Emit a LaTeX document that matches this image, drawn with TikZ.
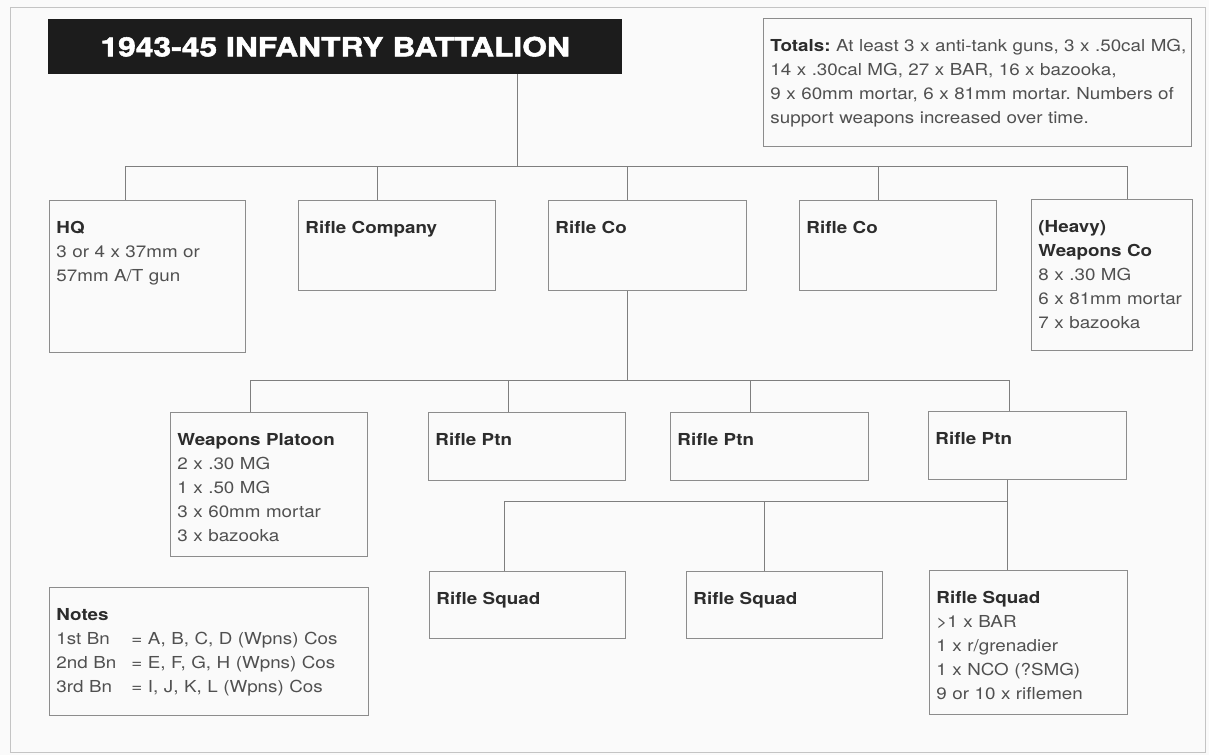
\documentclass[tikz,border=0pt]{standalone}
\usepackage{fontspec}
\setmainfont{TeX Gyre Heros}[FakeStretch=1.14]
\newfontfamily\titlefont{TeX Gyre Heros}[FakeStretch=1.2, FakeBold=2]
\usepackage{tikz}
\usetikzlibrary{calc}
\definecolor{paper}{HTML}{FAFAFA}
\definecolor{framegray}{HTML}{C4C4C4}
\definecolor{boxgray}{HTML}{8C8C8C}
\definecolor{linkgray}{HTML}{7E7E7E}
\definecolor{inkhead}{HTML}{2C2C2C}
\definecolor{inktext}{HTML}{505050}
\definecolor{titlebg}{HTML}{1C1C1C}
\newcommand\hd[1]{\textcolor{inkhead}{\bfseries #1}}
\frenchspacing

\begin{document}
\begin{tikzpicture}[
    x=1pt, y=-1pt,
    frame/.style={draw=framegray, line width=0.9pt},
    unit/.style={draw=boxgray, line width=0.9pt, anchor=north west,
        inner xsep=7pt, inner ysep=0pt, align=left, text=inktext,
        text height=33pt, font=\fontsize{16.5}{24}\selectfont},
    banner/.style={fill=titlebg, text=white, anchor=north west,
        minimum width=574pt, minimum height=55pt, inner sep=0pt,
        font=\titlefont\bfseries\fontsize{26.5}{30}\selectfont},
    link/.style={draw=linkgray, line width=0.9pt},
    ]

    \useasboundingbox (0,0) rectangle (1209,755);
    \fill[paper] (0,0) rectangle (1209,755);
    \draw[frame] (10,7) rectangle (1205,752);

    % title and totals
    \node[banner] (title) at (48,19) {1943-45 INFANTRY BATTALION};
    \node[unit, text width=414pt, text depth=95pt] (totals) at (763,18)
        {\mbox{\hd{Totals:} At least 3 x anti-tank guns, 3 x .50cal MG,}\\
         \mbox{14 x .30cal MG, 27 x BAR, 16 x bazooka,}\\
         \mbox{9 x 60mm mortar, 6 x 81mm mortar. Numbers of}\\
         \mbox{support weapons increased over time.}};

    % companies
    \node[unit, text width=182pt, text depth=119pt] (hq) at (49,200)
        {\hd{HQ}\\3 or 4 x 37mm or\\57mm A/T gun};
    \node[unit, text width=183pt, text depth=57pt] (coA) at (298,200) {\hd{Rifle Company}};
    \node[unit, text width=184pt, text depth=57pt] (coB) at (548,200) {\hd{Rifle Co}};
    \node[unit, text width=183pt, text depth=57pt] (coC) at (799,200) {\hd{Rifle Co}};
    \node[unit, text width=147pt, text depth=118pt] (wpnco) at (1031,199)
        {\hd{(Heavy)}\\\hd{Weapons Co}\\8 x .30 MG\\6 x 81mm mortar\\7 x bazooka};

    % platoons
    \node[unit, text width=183pt, text depth=111pt] (wpnplt) at (170,412)
        {\hd{Weapons Platoon}\\2 x .30 MG\\1 x .50 MG\\3 x 60mm mortar\\3 x bazooka};
    \node[unit, text width=183pt, text depth=35pt] (ptnA) at (428,412) {\hd{Rifle Ptn}};
    \node[unit, text width=184pt, text depth=35pt] (ptnB) at (670,412) {\hd{Rifle Ptn}};
    \node[unit, text width=184pt, text depth=35pt] (ptnC) at (928,411) {\hd{Rifle Ptn}};

    % squads
    \node[unit, text width=182pt, text depth=34pt] (sqdA) at (429,571) {\hd{Rifle Squad}};
    \node[unit, text width=182pt, text depth=34pt] (sqdB) at (686,571) {\hd{Rifle Squad}};
    \node[unit, text width=184pt, text depth=111pt] (sqdC) at (929,570)
        {\hd{Rifle Squad}\\>1 x BAR\\1 x r/grenadier\\1 x NCO (?SMG)\\9 or 10 x riflemen};

    % notes
    \node[unit, text width=305pt, text depth=95pt] (notes) at (49,587)
        {\hd{Notes}\\
         \makebox[75pt][l]{1st Bn}= A, B, C, D (Wpns) Cos\\
         \makebox[75pt][l]{2nd Bn}= E, F, G, H (Wpns) Cos\\
         \makebox[75pt][l]{3rd Bn}= I, J, K, L (Wpns) Cos};

    % battalion -> companies
    \coordinate (bnbus) at (517,166);
    \draw[link] (title.south -| bnbus) -- (bnbus);
    \foreach \n/\x in {hq/125, coA/377, coB/627, coC/878, wpnco/1127} {
        \coordinate (d-\n) at (\x,166);
        \draw[link] (d-\n) -- (d-\n |- \n.north);
    }
    \draw[link] (d-hq) -- (d-wpnco);

    % company -> platoons
    \coordinate (cobus) at (627,380);
    \draw[link] (coB.south -| cobus) -- (cobus);
    \foreach \n/\x in {wpnplt/250, ptnA/508, ptnB/750, ptnC/1009} {
        \coordinate (d-\n) at (\x,380);
        \draw[link] (d-\n) -- (d-\n |- \n.north);
    }
    \draw[link] (d-wpnplt) -- (d-ptnC);

    % platoon -> squads
    \coordinate (ptbus) at (1007,501);
    \draw[link] (ptnC.south -| ptbus) -- (ptbus);
    \foreach \n/\x in {sqdA/504, sqdB/764, sqdC/1007} {
        \coordinate (d-\n) at (\x,501);
        \draw[link] (d-\n) -- (d-\n |- \n.north);
    }
    \draw[link] (d-sqdA) -- (d-sqdC);

\end{tikzpicture}
\end{document}
